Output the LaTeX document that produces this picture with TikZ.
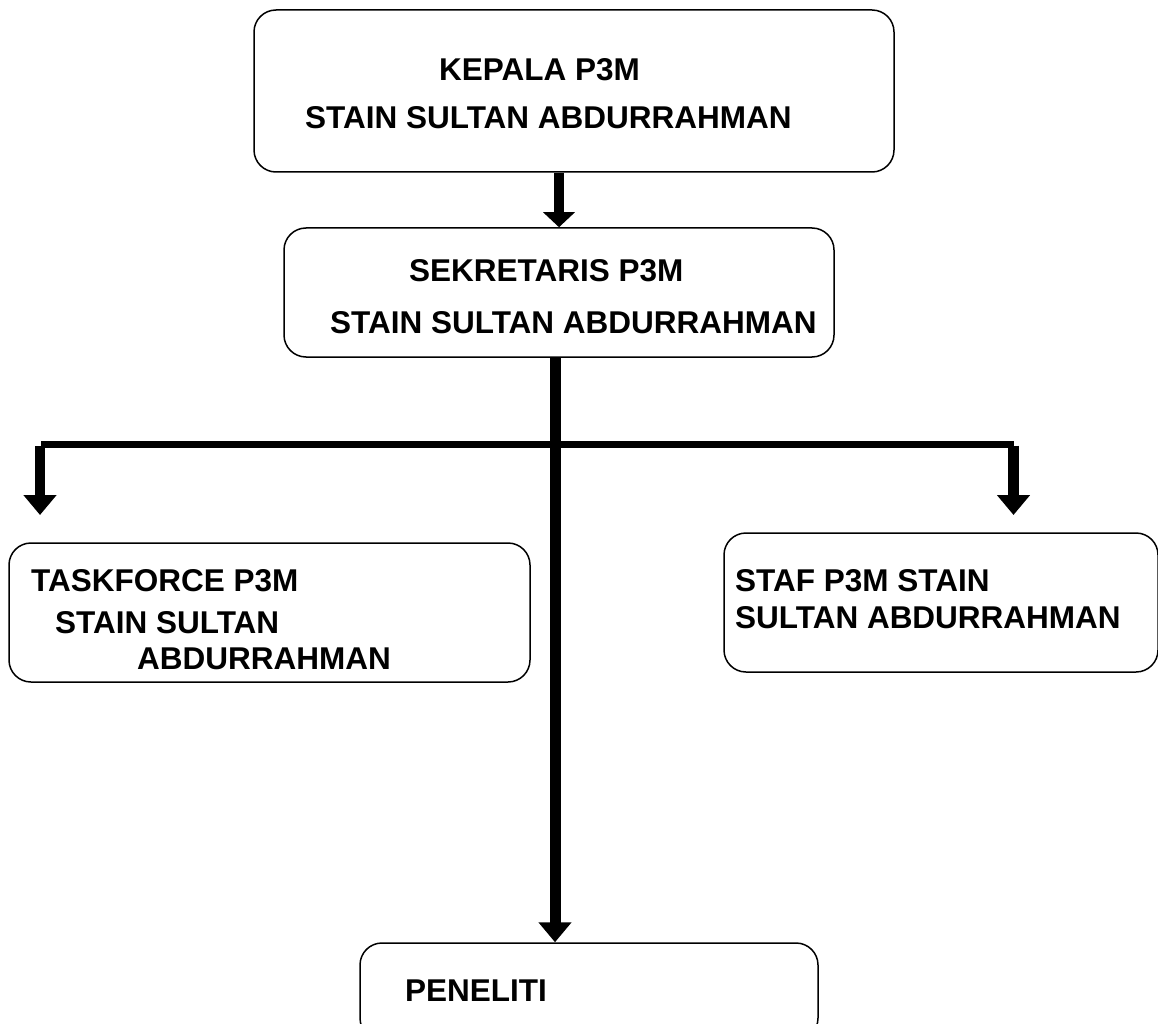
\documentclass[tikz,border=0pt]{standalone}
\usepackage{fontspec}
\setmainfont{Liberation Sans}
\usetikzlibrary{arrows.meta}
\begin{document}
\begin{tikzpicture}[x=1pt,y=-1pt,
  box/.style={draw,line width=1.5pt,rounded corners=22pt,inner sep=0pt},
  lbl/.style={anchor=base west,inner sep=0pt,font=\fontsize{31.5}{36}\selectfont\bfseries},
  conn/.style={line width=10.5pt},
  bar/.style={line width=7pt},
  arr/.style={conn,-{Triangle[width=32pt,length=20pt]}},
  arrs/.style={conn,-{Triangle[width=31pt,length=15pt]}}]
\useasboundingbox (0,0) rectangle (1158,1024);
\clip (0,0) rectangle (1158,1024);
% boxes
\node[box,minimum width=640pt,minimum height=162pt] (kepala) at (574,91) {};
\node[box,minimum width=550pt,minimum height=129pt] (sek) at (559,292.5) {};
\node[box,minimum width=521pt,minimum height=139pt] (task) at (269.5,612.5) {};
\node[box,minimum width=434pt,minimum height=139pt] (staf) at (941,602.5) {};
\node[box,minimum width=458pt,minimum height=97pt] (pen) at (589,991.5) {};
% texts
\node[lbl] (t1a) at (439,81) {KEPALA P3M};
\node[lbl] (t1b) at (305,129) {STAIN SULTAN ABDURRAHMAN};
\node[lbl] (t2a) at (409,281) {SEKRETARIS P3M};
\node[lbl] (t2b) at (330,333) {STAIN SULTAN ABDURRAHMAN};
\node[lbl] (t3a) at (31,591) {TASKFORCE P3M};
\node[lbl] (t3b) at (55,633) {STAIN SULTAN};
\node[lbl] (t3c) at (137,669) {ABDURRAHMAN};
\node[lbl] (t4a) at (735,591) {STAF P3M STAIN};
\node[lbl] (t4b) at (735,628) {SULTAN ABDURRAHMAN};
\node[lbl] (t5a) at (405,1001) {PENELITI};
% connectors
\draw[arrs] (kepala.south -| sek.north) -- (sek.north);
\coordinate (vx) at (555,0);
\draw[arr,line width=11pt] (sek.south -| vx) -- (vx |- pen.north);
\coordinate (bl) at (40,444);
\coordinate (br) at (1013.5,444);
\coordinate (tl) at (40,515);
\coordinate (tr) at (1013.5,515);
\draw[bar] ([xshift=1pt]bl) -- (br);
\draw[arr] ([yshift=-1.5pt]bl) -- (tl);
\draw[arr] ([yshift=-1.5pt]br) -- (tr);
\end{tikzpicture}
\end{document}
